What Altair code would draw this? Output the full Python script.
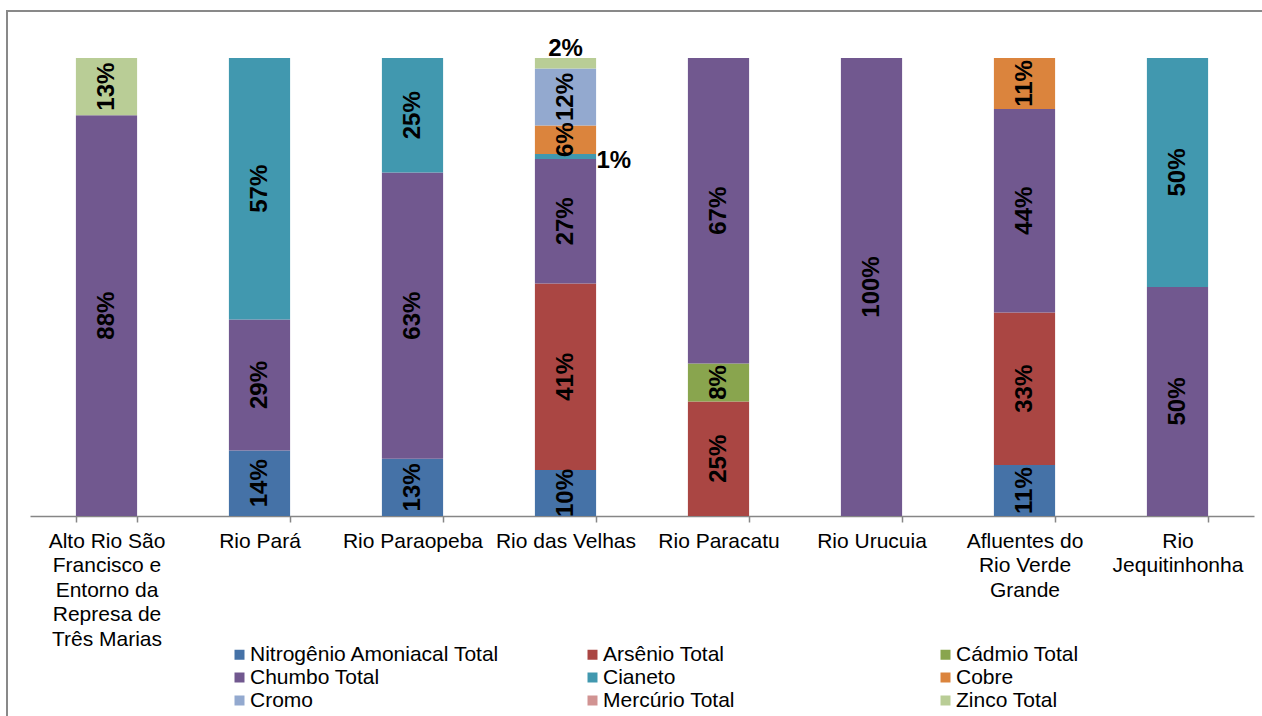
import altair as alt
import pandas as pd

# Sub-basins (each entry holds the lines of its axis label)
category_lines = [
    ["Alto Rio São", "Francisco e", "Entorno da", "Represa de", "Três Marias"],
    ["Rio Pará"],
    ["Rio Paraopeba"],
    ["Rio das Velhas"],
    ["Rio Paracatu"],
    ["Rio Urucuia"],
    ["Afluentes do", "Rio Verde", "Grande"],
    ["Rio", "Jequitinhonha"],
]
categories = ["\n".join(lines) for lines in category_lines]

# Parameters, in stacking order (bottom to top)
series = [
    "Nitrogênio Amoniacal Total",
    "Arsênio Total",
    "Cádmio Total",
    "Chumbo Total",
    "Cianeto",
    "Cobre",
    "Cromo",
    "Mercúrio Total",
    "Zinco Total",
]
colors = ["#4572A7", "#AA4643", "#89A54E", "#71588F", "#4198AF",
          "#DB843D", "#93A9CF", "#D19392", "#B9CD96"]

# Share (%) of each parameter in every sub-basin
nitrogenio = [0.0, 14.3, 12.5, 10.0, 0.0, 0.0, 11.1, 0.0]
arsenio    = [0.0, 0.0, 0.0, 40.6, 25.0, 0.0, 33.3, 0.0]
cadmio     = [0.0, 0.0, 0.0, 0.0, 8.3, 0.0, 0.0, 0.0]
chumbo     = [87.5, 28.6, 62.5, 27.1, 66.7, 100.0, 44.4, 50.0]
cianeto    = [0.0, 57.1, 25.0, 1.1, 0.0, 0.0, 0.0, 50.0]
cobre      = [0.0, 0.0, 0.0, 6.2, 0.0, 0.0, 11.1, 0.0]
cromo      = [0.0, 0.0, 0.0, 12.4, 0.0, 0.0, 0.0, 0.0]
mercurio   = [0.0, 0.0, 0.0, 0.0, 0.0, 0.0, 0.0, 0.0]
zinco      = [12.5, 0.0, 0.0, 2.3, 0.0, 0.0, 0.0, 0.0]

shares = [nitrogenio, arsenio, cadmio, chumbo, cianeto, cobre, cromo, mercurio, zinco]

rows = []
for s_idx, (name, vals) in enumerate(zip(series, shares)):
    for cat, v in zip(categories, vals):
        if v > 0:
            rows.append({"category": cat, "series": name, "idx": s_idx, "share": v})
df = pd.DataFrame(rows)

# The legend grid fills column by column: reorder so it reads row by row (3 columns)
n_cols = 3
n_rows = -(-len(series) // n_cols)
legend_order = [series[r * n_cols + c] for c in range(n_cols) for r in range(n_rows)
                if r * n_cols + c < len(series)]
legend_colors = [colors[series.index(s)] for s in legend_order]

FONT = "Liberation Sans"

base = (
    alt.Chart(df)
    .transform_joinaggregate(total="sum(share)", groupby=["category"])
    .transform_calculate(pct="datum.share / datum.total")
    .transform_stack(
        stack="pct",
        groupby=["category"],
        sort=[alt.SortField("idx", order="ascending")],
        as_=["y0", "y1"],
    )
    .transform_calculate(mid="(datum.y0 + datum.y1) / 2")
)

x_enc = alt.X(
    "category:N",
    sort=categories,
    title=None,
    scale=alt.Scale(paddingInner=0.6, paddingOuter=0.3),
    axis=alt.Axis(
        labelExpr="split(datum.label, '\\n')",
        labelAngle=0,
        labelFont=FONT,
        labelFontSize=21,
        labelColor="#000000",
        labelLineHeight=24.6,
        labelPadding=8,
        labelBaseline="top",
        labelLimit=400,
        tickBand="extent",
        tickSize=6,
        tickColor="#868686",
        tickWidth=1.5,
        domainColor="#868686",
        domainWidth=1.5,
        grid=False,
    ),
)
y_scale = alt.Scale(domain=[0, 1])

bars = base.mark_bar().encode(
    x=x_enc,
    y=alt.Y("y0:Q", scale=y_scale, axis=None),
    y2="y1:Q",
    color=alt.Color(
        "series:N",
        scale=alt.Scale(domain=legend_order, range=legend_colors),
        legend=alt.Legend(
            title=None,
            orient="none",
            legendX=199,
            legendY=586,
            columns=n_cols,
            gridAlign="all",
            columnPadding=82,
            rowPadding=1,
            labelFont=FONT,
            labelFontSize=21,
            labelColor="#000000",
            labelLimit=400,
            labelOffset=0,
            symbolType="square",
            symbolSize=100,
            symbolStrokeWidth=0,
            padding=0,
        ),
    ),
)

text_common = dict(font=FONT, fontSize=24, fontWeight="bold", color="#000000")

# Labels inside the segments, written upward
inner_labels = base.transform_filter("datum.pct >= 0.03").mark_text(
    angle=270, align="center", baseline="middle", **text_common
).encode(
    x=alt.X("category:N", sort=categories),
    y=alt.Y("mid:Q", scale=y_scale),
    text=alt.Text("pct:Q", format=".0%"),
)

# Thin top segment: label sits above the bar
top_label = base.transform_filter(
    "datum.pct < 0.03 && datum.series == 'Zinco Total'"
).mark_text(align="center", baseline="bottom", dy=3, **text_common).encode(
    x=alt.X("category:N", sort=categories),
    y=alt.Y("y1:Q", scale=y_scale),
    text=alt.Text("pct:Q", format=".0%"),
)

# Thin middle segment: label sits to the right of the bar
side_label = base.transform_filter(
    "datum.pct < 0.03 && datum.series == 'Cianeto'"
).mark_text(align="left", baseline="middle", dx=31, dy=4, **text_common).encode(
    x=alt.X("category:N", sort=categories),
    y=alt.Y("mid:Q", scale=y_scale),
    text=alt.Text("pct:Q", format=".0%"),
)

# Chart area frame (left and top edges)
frame_data = alt.Data(values=[{}])
frame_left = alt.Chart(frame_data).mark_rule(color="#898989", strokeWidth=2).encode(
    x=alt.value(-23), y=alt.value(-47), y2=alt.value(700)
)
frame_top = alt.Chart(frame_data).mark_rule(color="#898989", strokeWidth=2).encode(
    x=alt.value(-24), x2=alt.value(1260), y=alt.value(-47)
)

chart = (
    alt.layer(frame_left, frame_top, bars, inner_labels, top_label, side_label)
    .properties(
        width=1224,
        height=458,
        autosize=alt.AutoSizeParams(type="none"),
        padding={"left": 30, "top": 58, "right": 8, "bottom": 200},
        background="#ffffff",
    )
    .configure_view(stroke=None)
)

chart.save("out.html", embed_options={"renderer": "svg", "actions": False})
